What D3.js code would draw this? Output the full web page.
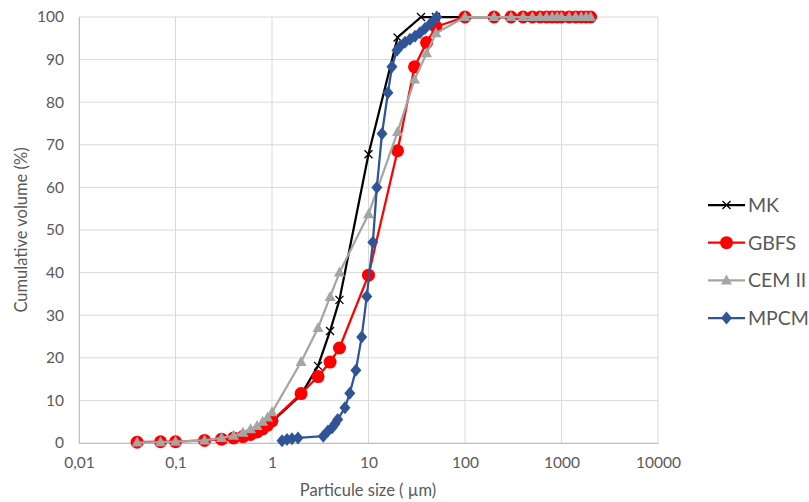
<!DOCTYPE html>
<html><head><meta charset="utf-8">
<script src="https://cdn.jsdelivr.net/npm/d3@7"></script>
<style>body{margin:0;background:#fff;}svg{display:block;font-family:Lato,"Liberation Sans",sans-serif;}</style>
</head><body>
<svg id="c" width="809" height="502"></svg>
<script>
const seriesNames = ["MK", "GBFS", "CEM II", "MPCM"];
const seriesColors = ["#000000", "#ff0000", "#a5a5a5", "#2f5597"];
const tail = [100,200,300,400,500,600,700,800,900,1000,1200,1400,1600,1800,2000];
const mkSize = [1,2,3,4,5,10,20,35,50].concat(tail);
const mkValue = [5,11.3,18.1,26.3,33.6,67.8,95.2,100,100].concat(tail.map(()=>100));
const gbfsSize = [0.04,0.07,0.1,0.2,0.3,0.4,0.5,0.6,0.7,0.8,0.9,1,2,3,4,5,10,20,30,40,50].concat(tail);
const gbfsValue = [0.2,0.3,0.3,0.6,0.9,1.2,1.5,2.0,2.6,3.3,4.2,5.2,11.6,15.6,19,22.3,39.4,68.6,88.3,94,97.7].concat(tail.map(()=>100));
const cemSize = [0.04,0.07,0.1,0.2,0.3,0.4,0.5,0.6,0.7,0.8,0.9,1,2,3,4,5,10,20,30,40,50].concat(tail);
const cemValue = [0.1,0.2,0.3,0.6,1.2,1.7,2.4,3.2,4.0,5.0,6.0,7.2,19,27,34.3,40,53.7,73,85.3,91.5,96.2].concat(tail.map(()=>100));
const mpcmSize = [1.27,1.43,1.61,1.86,3.4,3.8,4.2,4.5,4.8,5.7,6.4,7.4,8.5,9.6,11.1,12.2,13.8,15.9,17.5,19.7,21.6,23.9,26.9,30.3,34.2,38.5,43.3,47.6,51];
const mpcmValue = [0.5,0.8,1.0,1.2,1.6,2.8,3.6,4.5,5.5,8.3,11.7,17.1,24.9,34.4,47.1,60,72.6,82.2,88.3,92.2,93.3,94.1,94.8,95.5,96.3,97.3,98.3,99.2,100];
const xTicks = [0.01,0.1,1,10,100,1000,10000];
const xTickLabels = ["0,01","0,1","1","10","100","1000","10000"];
const yTicks = [0,10,20,30,40,50,60,70,80,90,100];

const svg = d3.select("#c");
const L=79, R=658, T=17, B=443;
const x = d3.scaleLog().domain([0.01,10000]).range([L,R]);
const y = d3.scaleLinear().domain([0,100]).range([B,T]);
const grid="#d9d9d9", txt="#595959";

svg.append("g").selectAll("line").data(yTicks).join("line")
  .attr("x1",L).attr("x2",R).attr("y1",d=>y(d)).attr("y2",d=>y(d))
  .attr("stroke",grid).attr("stroke-width",1);
svg.append("g").selectAll("line").data(xTicks).join("line")
  .attr("x1",d=>x(d)).attr("x2",d=>x(d)).attr("y1",T).attr("y2",B)
  .attr("stroke",grid).attr("stroke-width",1);

const yAxis = svg.append("g").attr("transform",`translate(${L},0)`)
  .call(d3.axisLeft(y).tickValues(yTicks).tickSize(0).tickPadding(15));
yAxis.select(".domain").attr("stroke","#bfbfbf");
yAxis.selectAll("text").attr("fill",txt).style("font-size","15.5px").style("font-family","Lato");
const xAxis = svg.append("g").attr("transform",`translate(0,${B})`)
  .call(d3.axisBottom(x).tickValues(xTicks).tickFormat((d,i)=>xTickLabels[i]).tickSize(0).tickPadding(14));
xAxis.select(".domain").attr("stroke","#bfbfbf");
xAxis.selectAll("text").attr("fill",txt).style("font-size","15.5px").style("font-family","Lato");

svg.append("text").attr("x",368).attr("y",496).attr("text-anchor","middle")
  .attr("fill",txt).style("font-size","16.5px").text("Particule size ( µm)");
svg.append("text").attr("transform","translate(27,230) rotate(-90)").attr("text-anchor","middle")
  .attr("fill",txt).style("font-size","16.5px").text("Cumulative volume (%)");

const data = [
  {sz:mkSize, v:mkValue},
  {sz:gbfsSize, v:gbfsValue},
  {sz:cemSize, v:cemValue},
  {sz:mpcmSize, v:mpcmValue}
];
const line = d3.line().x(d=>x(d[0])).y(d=>y(d[1]));

function marker(g, type, color, cx, cy){
  if(type===0){
    const s=4;
    g.append("path").attr("d",`M${cx-s},${cy-s}L${cx+s},${cy+s}M${cx-s},${cy+s}L${cx+s},${cy-s}`)
      .attr("stroke",color).attr("stroke-width",1.3).attr("fill","none");
  } else if(type===1){
    g.append("circle").attr("cx",cx).attr("cy",cy).attr("r",6.5).attr("fill",color);
  } else if(type===2){
    g.append("path").attr("d",`M${cx},${cy-6}L${cx+5.5},${cy+4}L${cx-5.5},${cy+4}Z`).attr("fill",color);
  } else {
    g.append("path").attr("d",`M${cx},${cy-6.5}L${cx+5.5},${cy}L${cx},${cy+6.5}L${cx-5.5},${cy}Z`).attr("fill",color);
  }
}

data.forEach((s,i)=>{
  const pts = s.sz.map((d,j)=>[d,s.v[j]]);
  const g = svg.append("g");
  g.append("path").attr("d",line(pts)).attr("fill","none")
    .attr("stroke",seriesColors[i]).attr("stroke-width",2.25).attr("stroke-linejoin","round");
  pts.forEach(p=>marker(g,i,seriesColors[i],x(p[0]),y(p[1])));
});

const lg = svg.append("g");
seriesNames.forEach((n,i)=>{
  const ly = 205 + i*37.7;
  lg.append("line").attr("x1",708).attr("x2",745).attr("y1",ly).attr("y2",ly)
    .attr("stroke",seriesColors[i]).attr("stroke-width",2.25);
  marker(lg,i,seriesColors[i],726.5,ly);
  lg.append("text").attr("x",748).attr("y",ly+7).attr("fill",txt)
    .style("font-size","19.5px").text(n);
});
</script>
</body></html>
